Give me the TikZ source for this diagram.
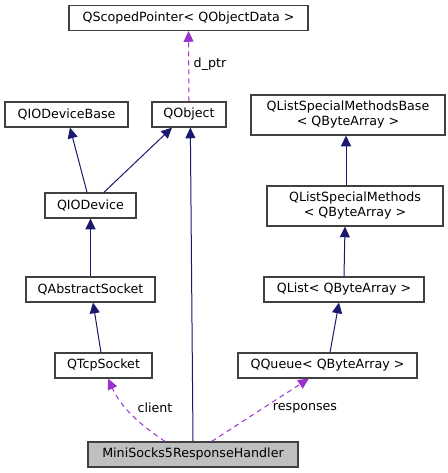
\documentclass[tikz,border=0pt]{standalone}
\usepackage{fontspec}
\setmainfont{DejaVu Sans}
\usetikzlibrary{arrows.meta}

\definecolor{inhcol}{HTML}{191970}
\definecolor{usecol}{HTML}{9A32CD}
\definecolor{boxline}{HTML}{404040}
\definecolor{mainfill}{HTML}{BFBFBF}

\tikzset{
  cls/.style={draw=boxline, line width=0.9pt, fill=white, inner sep=0pt,
    minimum height=18.75pt, align=center,
    font=\fontsize{9.5}{11.25}\selectfont},
  lbl/.style={inner sep=0.75pt, font=\fontsize{9.5}{11.25}\selectfont},
  inh/.style={draw=inhcol, line width=0.75pt,
    -{Triangle[width=7.5pt,length=8pt]}},
  use/.style={draw=usecol, line width=0.75pt, dash pattern=on 3.75pt off 3pt,
    -{Triangle[width=7.5pt,length=8pt]}},
}

\begin{document}
\begin{tikzpicture}[x=0.75pt,y=0.75pt,yscale=-1,xscale=1]
\useasboundingbox (0,0) rectangle (447,473);

% Class boxes
\node [cls, minimum width=179.25pt] (scoped) at (188.5,18) {QScopedPointer< QObjectData >};
\node [cls, minimum width=92.25pt] (iodevbase) at (66.5,114.5) {QIODeviceBase};
\node [cls, minimum width=55.5pt] (qobject) at (189,114.5) {QObject};
\node [cls, minimum width=145.5pt, minimum height=30pt] (lsmbase) at (348,115) {QListSpecialMethodsBase\\< QByteArray >};
\node [cls, minimum width=68.25pt] (iodevice) at (90.5,205.5) {QIODevice};
\node [cls, minimum width=132pt, minimum height=30pt] (lsm) at (355,206) {QListSpecialMethods\\< QByteArray >};
\node [cls, minimum width=96.75pt] (abssock) at (90.5,289.5) {QAbstractSocket};
\node [cls, minimum width=120pt] (qlist) at (344,289.5) {QList< QByteArray >};
\node [cls, minimum width=72.75pt] (tcpsock) at (103.5,365.5) {QTcpSocket};
\node [cls, minimum width=134.25pt] (qqueue) at (327.5,365.5) {QQueue< QByteArray >};
\node [cls, minimum width=157.5pt, fill=mainfill] (handler) at (193,454.5) {MiniSocks5ResponseHandler};

% Inheritance
\draw [inh] ([xshift=-2.6pt]iodevice.north) -- ([xshift=2.6pt]iodevbase.south);
\draw [inh] ([xshift=10pt]iodevice.north) -- ([xshift=-12.75pt]qobject.south);
\draw [inh] (handler.north) -- ([xshift=1pt]qobject.south);
\draw [inh] (abssock.north) -- (iodevice.south);
\draw [inh] ([xshift=-1.9pt]tcpsock.north) -- ([xshift=1.9pt]abssock.south);
\draw [inh] ([xshift=-6.75pt]lsm.north) -- ([xshift=-1.5pt]lsmbase.south);
\draw [inh] (qlist.north) -- ([xshift=-7.5pt]lsm.south);
\draw [inh] ([xshift=1.9pt]qqueue.north) -- ([xshift=-3.75pt]qlist.south);

% Usage
\draw [use] (qobject.north) -- (scoped.south);
\draw [use] ([xshift=-21pt]handler.north) .. controls (145,428) and (122,410) .. ([xshift=3.5pt]tcpsock.south);
\draw [use] ([xshift=14pt]handler.north) -- ([xshift=-14pt]qqueue.south);

% Edge labels
\node [lbl] (dptrlbl) at (210,64) {d\_ptr};
\node [lbl] (clientlbl) at (155,408) {client};
\node [lbl] (resplbl) at (305,408) {responses};

\end{tikzpicture}
\end{document}
